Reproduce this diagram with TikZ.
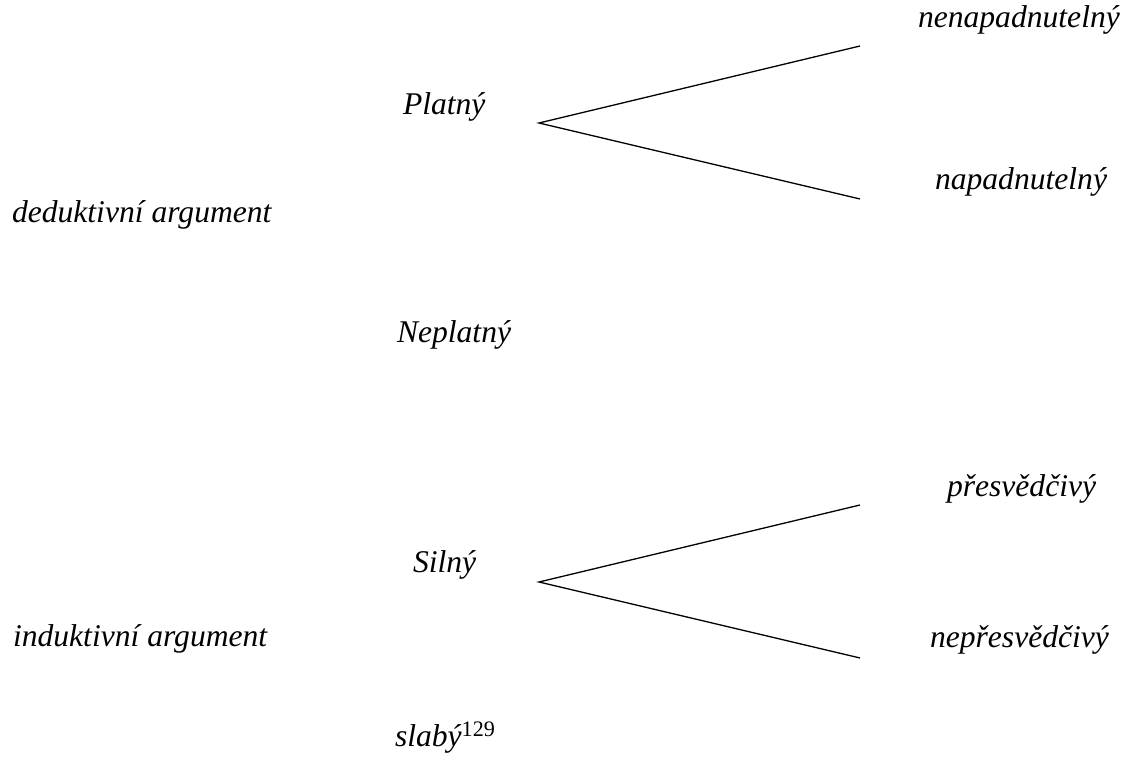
\documentclass[tikz,border=0pt]{standalone}
\usepackage{fontspec}
\setmainfont{Liberation Serif}
\tikzset{
  lbl/.style={anchor=base west, inner sep=0pt, outer sep=0pt, font=\fontsize{15.8}{19}\selectfont\itshape},
  branch/.style={line width=0.65pt, black}
}
\begin{document}
\begin{tikzpicture}[x=0.5pt,y=-0.5pt]
\useasboundingbox (0,0) rectangle (1126,769);
% labels
\node[lbl] (nenap) at (918,28) {nenapadnutelný};
\node[lbl] (platny) at (403,115) {Platný};
\node[lbl] (napad) at (935,190) {napadnutelný};
\node[lbl] (deduk) at (12,223) {deduktivní argument};
\node[lbl] (neplatny) at (397,343) {Neplatný};
\node[lbl] (presv) at (947,497) {přesvědčivý};
\node[lbl] (silny) at (413,573) {Silný};
\node[lbl] (induk) at (13,647) {induktivní argument};
\node[lbl] (nepresv) at (930,648) {nepřesvědčivý};
\node[lbl] (slaby) at (395,747) {slabý\textsuperscript{\upshape 129}};
% branch points
\coordinate (v1) at (539,123);
\coordinate (e1a) at (860,46);
\coordinate (e1b) at (860,199);
\coordinate (v2) at (539,582);
\coordinate (e2a) at (860,505);
\coordinate (e2b) at (860,658);
\draw[branch] (e1a) -- (v1) -- (e1b);
\draw[branch] (e2a) -- (v2) -- (e2b);
\end{tikzpicture}
\end{document}
